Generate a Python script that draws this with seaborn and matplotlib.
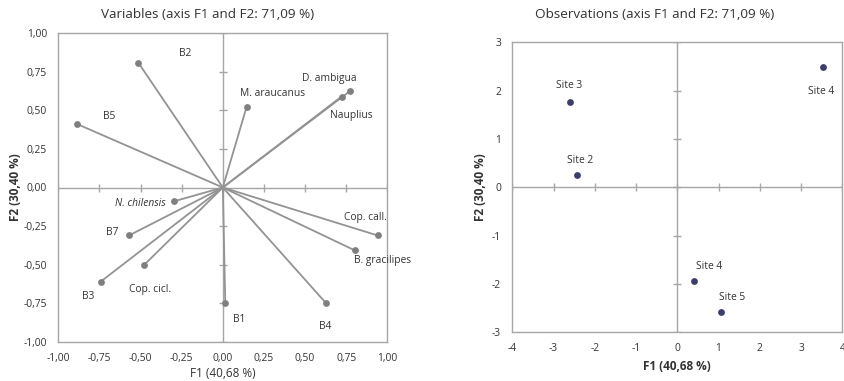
import matplotlib
matplotlib.use("Agg")
import matplotlib.pyplot as plt
import seaborn as sns
import pandas as pd

# ---------------- data ----------------
var_names = ["B2", "B5", "M. araucanus", "D. ambigua", "Nauplius", "N. chilensis",
             "B7", "Cop. cicl.", "B3", "B1", "B4", "B. gracilipes", "Cop. call."]
var_f1 = [-0.514, -0.889, 0.145, 0.773, 0.722, -0.295, -0.570, -0.479, -0.743, 0.015, 0.625, 0.803, 0.941]
var_f2 = [0.810, 0.413, 0.524, 0.625, 0.590, -0.089, -0.311, -0.503, -0.611, -0.747, -0.747, -0.408, -0.311]
var_lab_x = [-0.23, -0.69, 0.30, 0.645, 0.78, -0.50, -0.67, -0.44, -0.82, 0.10, 0.625, 0.97, 0.87]
var_lab_y = [0.87, 0.46, 0.61, 0.71, 0.465, -0.104, -0.29, -0.66, -0.71, -0.855, -0.90, -0.475, -0.197]

obs_names = ["Site 3", "Site 2", "Site 4", "Site 4", "Site 5"]
obs_f1 = [-2.60, -2.42, 3.54, 0.40, 1.07]
obs_f2 = [1.77, 0.25, 2.48, -1.93, -2.58]
obs_lab_x = [-2.63, -2.36, 3.48, 0.78, 1.34]
obs_lab_y = [2.11, 0.55, 1.98, -1.63, -2.28]

left_ticks = [-1.0, -0.75, -0.5, -0.25, 0.0, 0.25, 0.5, 0.75, 1.0]
left_ticklabels = ["-1,00", "-0,75", "-0,50", "-0,25", "0,00", "0,25", "0,50", "0,75", "1,00"]
right_ticks = [-4, -3, -2, -1, 0, 1, 2, 3, 4]
right_yticks = [-3, -2, -1, 0, 1, 2, 3]

title_left = "Variables (axis F1 and F2: 71,09 %)"
title_right = "Observations (axis F1 and F2: 71,09 %)"
xlabel = "F1 (40,68 %)"
ylabel = "F2 (30,40 %)"

# ---------------- style ----------------
sns.set_theme(style="white")
plt.rcParams["font.family"] = ["Open Sans", "DejaVu Sans"]
plt.rcParams["axes.unicode_minus"] = False
TXT = "#333333"
FRAME = "#a6a6a6"
LINE = "#939393"
PT = "#7f7f7f"
NAVY = "#3c3c6e"

fig = plt.figure(figsize=(8.45, 3.81), dpi=100)
axL = fig.add_axes([58.3 / 845, 39.3 / 381, 329 / 845, 308.4 / 381])
axR = fig.add_axes([512.3 / 845, 48.7 / 381, 330 / 845, 290 / 381])


def frame(ax):
    for s in ax.spines.values():
        s.set_color(FRAME)
        s.set_linewidth(1.0)
    ax.tick_params(length=0, labelsize=7.4, labelcolor=TXT)


def cross_axes(ax, xt, yt, ticklen):
    ax.axhline(0, color=FRAME, lw=1.0, zorder=1)
    ax.axvline(0, color=FRAME, lw=1.0, zorder=1)
    ax.scatter(xt, [0] * len(xt), marker="|", s=ticklen, color=FRAME, linewidths=1.0, zorder=1)
    ax.scatter([0] * len(yt), yt, marker="_", s=ticklen, color=FRAME, linewidths=1.0, zorder=1)


# ---- left: variables ----
df_v = pd.DataFrame({"F1": var_f1, "F2": var_f2, "name": var_names})
cross_axes(axL, left_ticks, left_ticks, 30)
for x, y in zip(var_f1, var_f2):
    axL.plot([0, x], [0, y], color=LINE, lw=1.3, zorder=2, solid_capstyle="round")
sns.scatterplot(data=df_v, x="F1", y="F2", ax=axL, color=PT, s=24, edgecolor=PT, linewidth=0, zorder=3)
for name, lx, ly in zip(var_names, var_lab_x, var_lab_y):
    style = "italic" if name == "N. chilensis" else "normal"
    axL.text(lx, ly, name, ha="center", va="center", fontsize=7.4, color=TXT, style=style)
axL.set_xlim(-1, 1)
axL.set_ylim(-1, 1)
axL.set_xticks(left_ticks)
axL.set_xticklabels(left_ticklabels)
axL.set_yticks(left_ticks)
axL.set_yticklabels(left_ticklabels)
frame(axL)
axL.tick_params(axis="y", pad=8)
axL.tick_params(axis="x", pad=8)
axL.set_xlabel(xlabel, fontsize=8.5, color=TXT, labelpad=2)
axL.set_ylabel(ylabel, fontsize=8.5, color=TXT, fontweight="bold", labelpad=1)

# ---- right: observations ----
df_o = pd.DataFrame({"F1": obs_f1, "F2": obs_f2, "name": obs_names})
cross_axes(axR, right_ticks, right_yticks, 30)
sns.scatterplot(data=df_o, x="F1", y="F2", ax=axR, color=NAVY, s=24, edgecolor=NAVY, linewidth=0, zorder=3)
for name, lx, ly in zip(obs_names, obs_lab_x, obs_lab_y):
    axR.text(lx, ly, name, ha="center", va="center", fontsize=7.4, color=TXT)
axR.set_xlim(-4, 4)
axR.set_ylim(-3, 3)
axR.set_xticks(right_ticks)
axR.set_yticks(right_yticks)
frame(axR)
axR.tick_params(axis="y", pad=8)
axR.tick_params(axis="x", pad=8)
axR.set_xlabel(xlabel, fontsize=8.5, color=TXT, fontweight="bold", labelpad=4)
axR.set_ylabel(ylabel, fontsize=8.5, color=TXT, fontweight="bold", labelpad=4)

fig.text(208 / 845, 1 - 15 / 381, title_left, ha="center", va="center", fontsize=9.7, color=TXT)
fig.text(655 / 845, 1 - 15 / 381, title_right, ha="center", va="center", fontsize=9.7, color=TXT)

fig.savefig("out.png", dpi=100)
